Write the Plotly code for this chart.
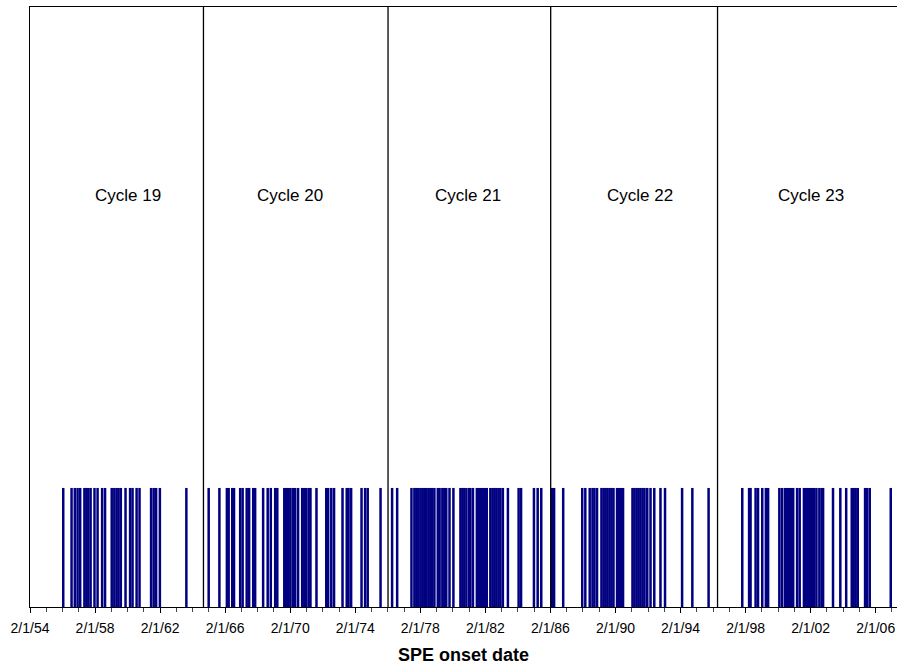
import plotly.graph_objects as go
from datetime import datetime, timedelta

# SPE onset dates (decimal years)
events_c19 = [1956.13, 1956.64, 1956.84, 1957.01, 1957.17, 1957.43, 1957.55, 1957.67, 1957.81,
              1958.05, 1958.24, 1958.52, 1958.70, 1959.11, 1959.27, 1959.41, 1959.53, 1959.67,
              1959.96, 1960.24, 1960.39, 1960.64, 1960.82, 1961.53, 1961.69, 1961.84, 1962.07,
              1963.70]
events_c20 = [1965.07, 1965.73, 1966.19, 1966.30, 1966.52, 1966.63, 1967.01, 1967.16, 1967.41,
              1967.56, 1967.81, 1967.93, 1968.42, 1968.70, 1968.89, 1969.16, 1969.29, 1969.72,
              1969.84, 1969.96, 1970.09, 1970.24, 1970.39, 1970.57, 1970.82, 1970.95, 1971.07,
              1971.22, 1971.33, 1971.70, 1972.30, 1972.42, 1972.61, 1972.78, 1973.30, 1973.56,
              1973.67, 1973.83, 1974.47, 1974.69, 1974.85, 1975.64]
events_c21 = [1976.35, 1976.66, 1977.54, 1977.72, 1977.84, 1977.96, 1978.09, 1978.21, 1978.33,
              1978.45, 1978.58, 1978.70, 1978.82, 1978.95, 1979.16, 1979.27, 1979.44, 1979.56,
              1979.68, 1979.88, 1980.12, 1980.55, 1980.67, 1980.79, 1980.92, 1981.09, 1981.16,
              1981.32, 1981.56, 1981.69, 1981.81, 1981.93, 1982.05, 1982.17, 1982.39, 1982.52,
              1982.64, 1982.76, 1982.89, 1983.01, 1983.16, 1983.47, 1984.13, 1984.28, 1985.07,
              1985.30, 1985.52]
events_c22 = [1986.19, 1986.31, 1986.87, 1988.04, 1988.23, 1988.50, 1988.67, 1988.79, 1988.95,
              1989.22, 1989.35, 1989.47, 1989.59, 1989.72, 1989.84, 1989.96, 1990.18, 1990.30,
              1990.42, 1990.55, 1991.13, 1991.25, 1991.38, 1991.50, 1991.62, 1991.75, 1991.87,
              1992.04, 1992.24, 1992.47, 1992.85, 1993.13, 1994.18, 1994.81, 1995.81]
events_c23 = [1997.88, 1998.30, 1998.39, 1998.70, 1998.85, 1999.11, 1999.33, 1999.47, 2000.16,
              2000.32, 2000.50, 2000.63, 2000.75, 2000.87, 2001.01, 2001.25, 2001.41, 2001.67,
              2001.81, 2001.93, 2002.05, 2002.18, 2002.30, 2002.44, 2002.62, 2002.76, 2002.85,
              2003.46, 2003.91, 2004.27, 2004.61, 2004.73, 2004.85, 2004.98, 2005.43, 2005.56,
              2005.72, 2007.01]
event_height = 1

cycle_boundaries = [1964.75, 1976.10, 1986.10, 1996.36]
cycle_names = ["Cycle 19", "Cycle 20", "Cycle 21", "Cycle 22", "Cycle 23"]
cycle_label_pos = [1960.12, 1970.09, 1981.04, 1991.62, 2002.09]

axis_start = "1954-02-01"
axis_end = "2007-05-25"


def to_date(y):
    yr = int(y)
    start = datetime(yr, 1, 1)
    ndays = (datetime(yr + 1, 1, 1) - start).days
    return start + timedelta(days=(y - yr) * ndays)


all_events = events_c19 + events_c20 + events_c21 + events_c22 + events_c23
xs, ys = [], []
for e in all_events:
    d = to_date(e)
    xs += [d, d, None]
    ys += [0, event_height, None]

fig = go.Figure()
fig.add_trace(go.Scatter(x=xs, y=ys, mode="lines",
                         line=dict(color="#000080", width=2.5), hoverinfo="skip",
                         showlegend=False))

for b in cycle_boundaries:
    d = to_date(b)
    fig.add_shape(type="line", x0=d, x1=d, xref="x", y0=0, y1=1, yref="paper",
                  line=dict(color="black", width=1.3))

for name, pos in zip(cycle_names, cycle_label_pos):
    fig.add_annotation(x=to_date(pos), y=0.685, xref="x", yref="paper", text=name,
                       showarrow=False, font=dict(size=17, color="black"),
                       xanchor="center", yanchor="middle")

fig.add_annotation(x=0.5, y=-0.08, xref="paper", yref="paper", text="<b>SPE onset date</b>",
                   showarrow=False, font=dict(size=18, color="black"),
                   xanchor="center", yanchor="middle")

fig.update_layout(
    width=898, height=672,
    margin=dict(l=30, r=1, t=7, b=65),
    paper_bgcolor="white", plot_bgcolor="white",
    font=dict(family="Arial, Liberation Sans, sans-serif", color="black", size=14),
    xaxis=dict(type="date", range=[axis_start, axis_end],
               tick0=axis_start, dtick="M48", tickformat="%-m/%-d/%y",
               ticks="outside", ticklen=5, tickcolor="black", tickwidth=1,
               ticklabelstandoff=3,
               showline=True, linecolor="black", linewidth=1.3, mirror=True,
               showgrid=False, zeroline=False,
               tickfont=dict(size=14),
               minor=dict(ticks="outside", dtick="M12", tick0=axis_start,
                          ticklen=4, tickcolor="#444", showgrid=False)),
    yaxis=dict(range=[0, 5.04], showticklabels=False, ticks="", showgrid=False,
               zeroline=False, showline=True, linecolor="black", linewidth=1.3),
)

fig.write_html("out.html", config={"displayModeBar": False},
               post_script="document.body.style.margin='0';document.body.style.overflow='hidden';")
